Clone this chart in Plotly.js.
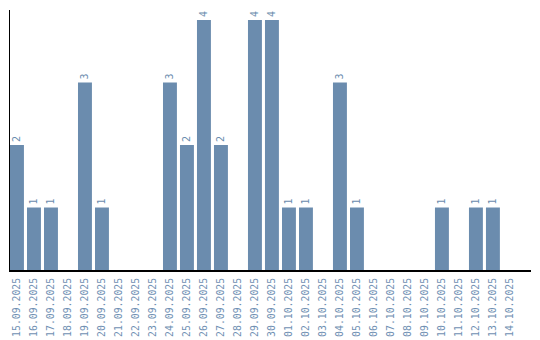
<!DOCTYPE html>
<html><head><meta charset="utf-8">
<script src="https://cdn.plot.ly/plotly-3.0.1.min.js"></script>
<style>html,body{margin:0;padding:0;background:#fff}</style>
</head><body><div id="c" style="width:540px;height:340px"></div>
<script>
const dates = ["15.09.2025","16.09.2025","17.09.2025","18.09.2025","19.09.2025","20.09.2025","21.09.2025","22.09.2025","23.09.2025","24.09.2025","25.09.2025","26.09.2025","27.09.2025","28.09.2025","29.09.2025","30.09.2025","01.10.2025","02.10.2025","03.10.2025","04.10.2025","05.10.2025","06.10.2025","07.10.2025","08.10.2025","09.10.2025","10.10.2025","11.10.2025","12.10.2025","13.10.2025","14.10.2025"];
const counts = [2,1,1,0,3,1,0,0,0,3,2,4,2,0,4,4,1,1,0,3,1,0,0,0,0,1,0,1,1,0];
const barColor = "#6b8cae";
const labels = counts.map(v => v > 0 ? String(v) : "");
Plotly.newPlot("c", [{
  type: "bar",
  x: dates,
  y: counts,
  text: labels,
  textposition: "outside",
  textangle: -90,
  cliponaxis: false,
  textfont: {family: "DejaVu Sans Mono", size: 10, color: barColor},
  marker: {color: barColor},
  hoverinfo: "none"
}], {
  width: 540, height: 340,
  margin: {l: 10, r: 9, t: 10, b: 70},
  paper_bgcolor: "#fff", plot_bgcolor: "#fff",
  bargap: 0.18,
  showlegend: false,
  xaxis: {
    type: "category",
    range: [-0.41, 30.24],
    showline: true, linecolor: "#000", linewidth: 2,
    showgrid: false, zeroline: false,
    ticks: "", tickangle: -90, ticklabelstandoff: 2,
    tickfont: {family: "DejaVu Sans Mono", size: 9.8, color: "#7090b3"}
  },
  yaxis: {
    range: [0, 4.16],
    showline: true, linecolor: "#000", linewidth: 1.5,
    showgrid: false, zeroline: false,
    showticklabels: false, ticks: ""
  }
}, {displayModeBar: false, staticPlot: true});
</script></body></html>
